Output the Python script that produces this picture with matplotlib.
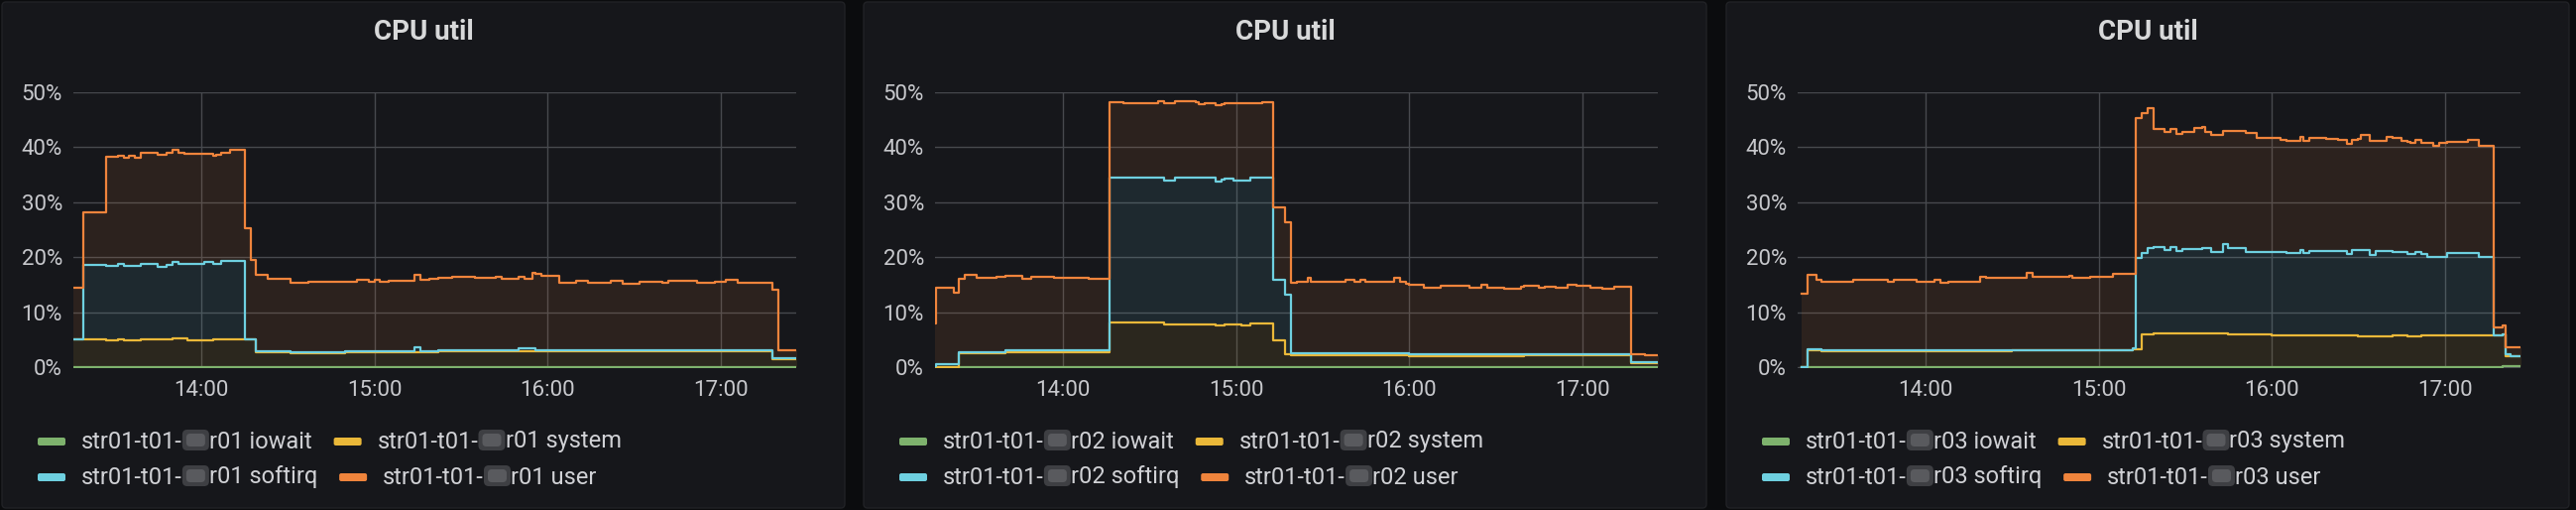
import numpy as np
import pandas as pd
import matplotlib
matplotlib.use("Agg")
import matplotlib.pyplot as plt
import matplotlib.dates as mdates
from matplotlib.patches import FancyBboxPatch
from matplotlib.transforms import Affine2D

plt.rcParams['font.family'] = ['Roboto', 'DejaVu Sans']

hosts = ["r01", "r02", "r03"]
metrics = ["iowait", "system", "softirq", "user"]
colors = ["#7EB26D", "#EAB839", "#6ED0E0", "#EF843C"]

# r01 (stacked series, value holds until next time)
r01_iowait_t = ["13:15", "17:27"]
r01_iowait = [0.0, 0.0]
r01_system_t = ["13:15", "13:27", "13:31", "13:33", "13:39", "13:50", "13:55", "14:04", "14:19", "14:31",
                "14:50", "15:22", "17:18", "17:27"]
r01_system = [5.0, 4.8, 5.0, 4.8, 5.0, 5.2, 4.9, 5.0, 2.7, 2.5, 2.7, 2.9, 1.5, 1.5]
r01_softirq_t = ["13:15", "13:19", "13:27", "13:31", "13:33", "13:39", "13:45", "13:48", "13:50", "13:52",
                 "13:55", "14:01", "14:04", "14:07", "14:15", "14:19", "15:14", "15:16", "15:50", "15:56",
                 "17:18", "17:27"]
r01_softirq = [0.0, 13.6, 13.6, 13.7, 13.6, 13.8, 13.3, 13.5, 14.0, 13.5, 13.8, 14.2, 13.7, 14.3, 0.0, 0.2,
               1.0, 0.2, 0.5, 0.2, 0.1, 0.1]
r01_user_t = ["13:15", "13:19", "13:27", "13:31", "13:35", "13:37", "13:39", "13:45", "13:48", "13:50",
              "13:52", "13:54", "14:01", "14:05", "14:07", "14:10", "14:15", "14:17", "14:19", "14:23",
              "14:31", "14:37", "14:50", "14:54", "14:58", "15:00", "15:02", "15:05", "15:14", "15:16",
              "15:19", "15:27", "15:35", "15:42", "15:44", "15:52", "15:55", "15:58", "16:04", "16:10",
              "16:14", "16:18", "16:22", "16:26", "16:32", "16:40", "16:42", "16:52", "16:58", "17:02",
              "17:06", "17:18", "17:20", "17:27"]
r01_user = [9.5, 9.6, 19.8, 19.7, 20.0, 19.6, 20.2, 20.3, 20.4, 20.3,
            20.3, 20.0, 19.7, 19.9, 19.6, 20.2, 20.2, 14.4, 13.9, 13.2,
            12.7, 12.8, 12.6, 13.0, 12.6, 13.0, 12.7, 12.8, 13.0, 13.0,
            13.2, 13.3, 13.2, 13.4, 13.0, 12.7, 13.8, 13.5, 12.3, 12.6,
            12.3, 12.2, 12.6, 12.1, 12.4, 12.3, 12.6, 12.2, 12.4, 12.7,
            12.3, 12.5, 1.4, 1.4]

# r02
r02_iowait_t = ["13:15", "17:27"]
r02_iowait = [0.0, 0.0]
r02_system_t = ["13:15", "13:24", "13:40", "14:16", "14:35", "14:53", "14:56", "15:02", "15:05", "15:13",
                "15:17", "15:19", "16:00", "16:40", "17:17", "17:27"]
r02_system = [0.0, 2.5, 2.7, 8.1, 7.8, 7.6, 7.8, 7.5, 7.9, 4.8, 2.3, 2.2, 2.0, 2.1, 0.7, 0.7]
r02_softirq_t = ["13:15", "13:16", "13:24", "14:16", "14:35", "14:39", "14:53", "14:55", "14:59", "15:02",
                 "15:05", "15:13", "15:17", "15:19", "17:17", "17:27"]
r02_softirq = [0.2, 0.5, 0.3, 26.3, 26.1, 26.6, 26.2, 26.4, 26.1, 26.4, 26.5, 11.1, 10.9, 0.3, 0.2, 0.2]
r02_user_t = ["13:15", "13:16", "13:22", "13:24", "13:26", "13:30", "13:37", "13:46", "13:49", "13:57",
              "14:09", "14:16", "14:21", "14:33", "14:35", "14:39", "14:46", "14:47", "14:49", "14:53",
              "14:55", "14:59", "15:02", "15:05", "15:09", "15:13", "15:17", "15:19", "15:21", "15:25",
              "15:26", "15:38", "15:41", "15:43", "15:45", "15:55", "15:57", "15:59", "16:05", "16:11",
              "16:21", "16:25", "16:27", "16:33", "16:39", "16:45", "16:47", "16:51", "16:55", "16:58",
              "17:03", "17:07", "17:11", "17:17", "17:22", "17:27"]
r02_user = [7.7, 13.9, 13.1, 13.3, 13.9, 13.4, 13.6, 13.0, 13.5, 13.2,
            13.0, 13.8, 13.5, 13.9, 14.0, 13.9, 13.7, 13.4, 13.6, 13.8,
            13.8, 14.1, 14.0, 13.5, 13.7, 13.2, 13.2, 12.8, 13.1, 13.7,
            13.1, 13.4, 13.0, 13.4, 13.0, 13.7, 13.1, 12.6, 12.1, 12.4,
            12.1, 12.6, 12.2, 11.9, 12.3, 12.0, 12.2, 12.0, 12.6, 12.4,
            12.0, 11.9, 12.2, 1.4, 1.2, 1.2]

# r03
r03_iowait_t = ["13:17", "17:20", "17:27"]
r03_iowait = [0.0, 0.2, 0.2]
r03_system_t = ["13:17", "13:19", "13:24", "14:30", "15:12", "15:15", "15:19", "15:45", "16:00", "16:30",
                "16:42", "16:47", "16:52", "17:21", "17:27"]
r03_system = [0.0, 3.1, 2.9, 3.0, 3.3, 5.9, 6.1, 5.9, 5.8, 5.6, 5.8, 5.6, 5.8, 1.7, 1.7]
r03_softirq_t = ["13:17", "13:19", "15:12", "15:13", "15:15", "15:17", "15:19", "15:23", "15:25", "15:27",
                 "15:29", "15:36", "15:39", "15:43", "15:45", "15:51", "16:00", "16:05", "16:10", "16:11",
                 "16:13", "16:26", "16:28", "16:30", "16:34", "16:36", "16:42", "16:47", "16:50", "16:52",
                 "16:54", "17:01", "17:12", "17:17", "17:21", "17:23", "17:27"]
r03_softirq = [0.0, 0.1, 0.2, 16.5, 14.9, 15.8, 15.8, 15.2, 15.7, 15.0,
               15.4, 15.6, 14.9, 16.2, 15.8, 15.0, 15.1, 14.9, 15.5, 14.9,
               15.3, 14.7, 15.4, 15.7, 14.7, 15.5, 15.1, 15.0, 15.4, 14.7,
               14.3, 14.9, 14.3, 0.0, 0.4, 0.1, 0.1]
r03_user_t = ["13:17", "13:19", "13:22", "13:24", "13:35", "13:47", "13:49", "13:57", "14:03", "14:05",
              "14:08", "14:19", "14:21", "14:35", "14:37", "14:50", "14:51", "14:57", "15:05", "15:12",
              "15:13", "15:15", "15:17", "15:19", "15:23", "15:25", "15:27", "15:29", "15:33", "15:36",
              "15:37", "15:39", "15:43", "15:45", "15:51", "15:55", "16:03", "16:10", "16:11", "16:15",
              "16:19", "16:23", "16:26", "16:28", "16:31", "16:34", "16:36", "16:40", "16:45", "16:48",
              "16:50", "16:52", "16:54", "16:56", "16:58", "17:01", "17:08", "17:12", "17:17", "17:21",
              "17:23", "17:27"]
r03_user = [13.3, 13.6, 12.7, 12.5, 12.8, 12.6, 12.8, 12.6, 12.8, 12.4,
            12.6, 13.5, 13.2, 14.0, 13.3, 13.5, 13.1, 13.4, 13.8, 13.4,
            25.4, 25.3, 25.4, 21.3, 21.5, 21.5, 21.2, 21.3, 21.9, 21.9,
            21.1, 21.2, 20.6, 21.2, 21.6, 20.7, 20.4, 20.6, 20.5, 20.6,
            20.3, 20.2, 20.1, 20.1, 20.9, 20.8, 20.0, 20.7, 20.3, 20.2,
            20.3, 20.2, 20.6, 20.1, 20.7, 20.3, 20.6, 20.2, 1.5, 1.4,
            1.7, 1.7]

panels = [
    [(r01_iowait_t, r01_iowait), (r01_system_t, r01_system), (r01_softirq_t, r01_softirq), (r01_user_t, r01_user)],
    [(r02_iowait_t, r02_iowait), (r02_system_t, r02_system), (r02_softirq_t, r02_softirq), (r02_user_t, r02_user)],
    [(r03_iowait_t, r03_iowait), (r03_system_t, r03_system), (r03_softirq_t, r03_softirq), (r03_user_t, r03_user)],
]


def to_x(times):
    return mdates.date2num(pd.to_datetime(times, format="%H:%M"))


def stack(series):
    grid = np.unique(np.concatenate([to_x(t) for t, v in series]))
    total = np.zeros(len(grid))
    layers = []
    for t, v in series:
        i = np.searchsorted(to_x(t), grid, side="right") - 1
        lo = total.copy()
        total = total + np.asarray(v)[i]
        layers.append((lo, total.copy()))
    return grid, layers


W, H = 2598, 514
fig = plt.figure(figsize=(W / 100, H / 100), dpi=100, facecolor="#0b0c0e")
pix = Affine2D().scale(1, -1).translate(0, H)
r = fig.canvas.get_renderer()

panel_left = [2, 871, 1741]
text_col = "#d0d1d5"
x0 = pd.Timestamp("1900-01-01 13:15:37")
x1 = pd.Timestamp("1900-01-01 17:26:18")

for k, host in enumerate(hosts):
    P = panel_left[k]
    fig.patches.append(FancyBboxPatch((P, 2), 850, 510, boxstyle="round,pad=0,rounding_size=4",
                                      transform=pix, fc="#16171b", ec="#212226", lw=1, zorder=-10))
    fig.text(P + 425, 40, "CPU util", transform=pix, ha="center", va="baseline",
             fontsize=20, fontweight="semibold", color="#d8d9da")

    ax = fig.add_axes([(P + 72) / W, (H - 370.7) / H, 729 / W, (370.7 - 92.7) / H])
    ax.set_zorder(5)
    ax.set_facecolor("none")
    grid, layers = stack(panels[k])
    for (lo, hi), c in zip(layers, colors):
        ax.fill_between(grid, lo, hi, step="post", color=c, alpha=0.1, lw=0)
    for (lo, hi), c in zip(layers, colors):
        ax.plot(grid, hi, drawstyle="steps-post", color=c, lw=1.6)

    ax.set_xlim(x0, x1)
    ax.set_ylim(-0.12, 50)
    ax.set_yticks([0, 10, 20, 30, 40, 50])
    ax.set_yticklabels([f"{v}%" for v in [0, 10, 20, 30, 40, 50]])
    ax.xaxis.set_major_locator(mdates.HourLocator())
    ax.xaxis.set_major_formatter(mdates.DateFormatter("%H:%M"))
    ax.tick_params(axis="both", length=0, labelsize=16, labelcolor="#c7c8cc")
    ax.tick_params(axis="y", pad=8)
    ax.tick_params(axis="x", pad=9)
    ax.grid(True, color="#47494e", lw=1)
    ax.set_axisbelow(True)
    for s in ax.spines.values():
        s.set_visible(False)

    # legend, two rows flowing left to right
    for row, yc, yb in [([0, 1], 445, 451.5), ([2, 3], 481, 487.5)]:
        x = P + 36
        for i in row:
            fig.patches.append(FancyBboxPatch((x, yc - 4), 28, 8, boxstyle="round,pad=0,rounding_size=2",
                                              transform=pix, fc=colors[i], ec="none"))
            x += 44
            t1 = fig.text(x, yb, "str01-t01-", transform=pix, va="baseline", fontsize=17, color=text_col)
            x += t1.get_window_extent(r).width
            fig.patches.append(FancyBboxPatch((x, yc - 12), 27, 21, boxstyle="round,pad=0,rounding_size=5",
                                              transform=pix, fc="#505155", ec="none", alpha=0.7))
            fig.patches.append(FancyBboxPatch((x + 4, yc - 8), 19, 13, boxstyle="round,pad=0,rounding_size=4",
                                              transform=pix, fc="#606165", ec="none", alpha=0.8))
            x += 27
            t2 = fig.text(x, yb, f"{host} {metrics[i]}", transform=pix, va="baseline", fontsize=17, color=text_col)
            x += t2.get_window_extent(r).width + 22

fig.savefig("out.png", dpi=100, facecolor=fig.get_facecolor())
